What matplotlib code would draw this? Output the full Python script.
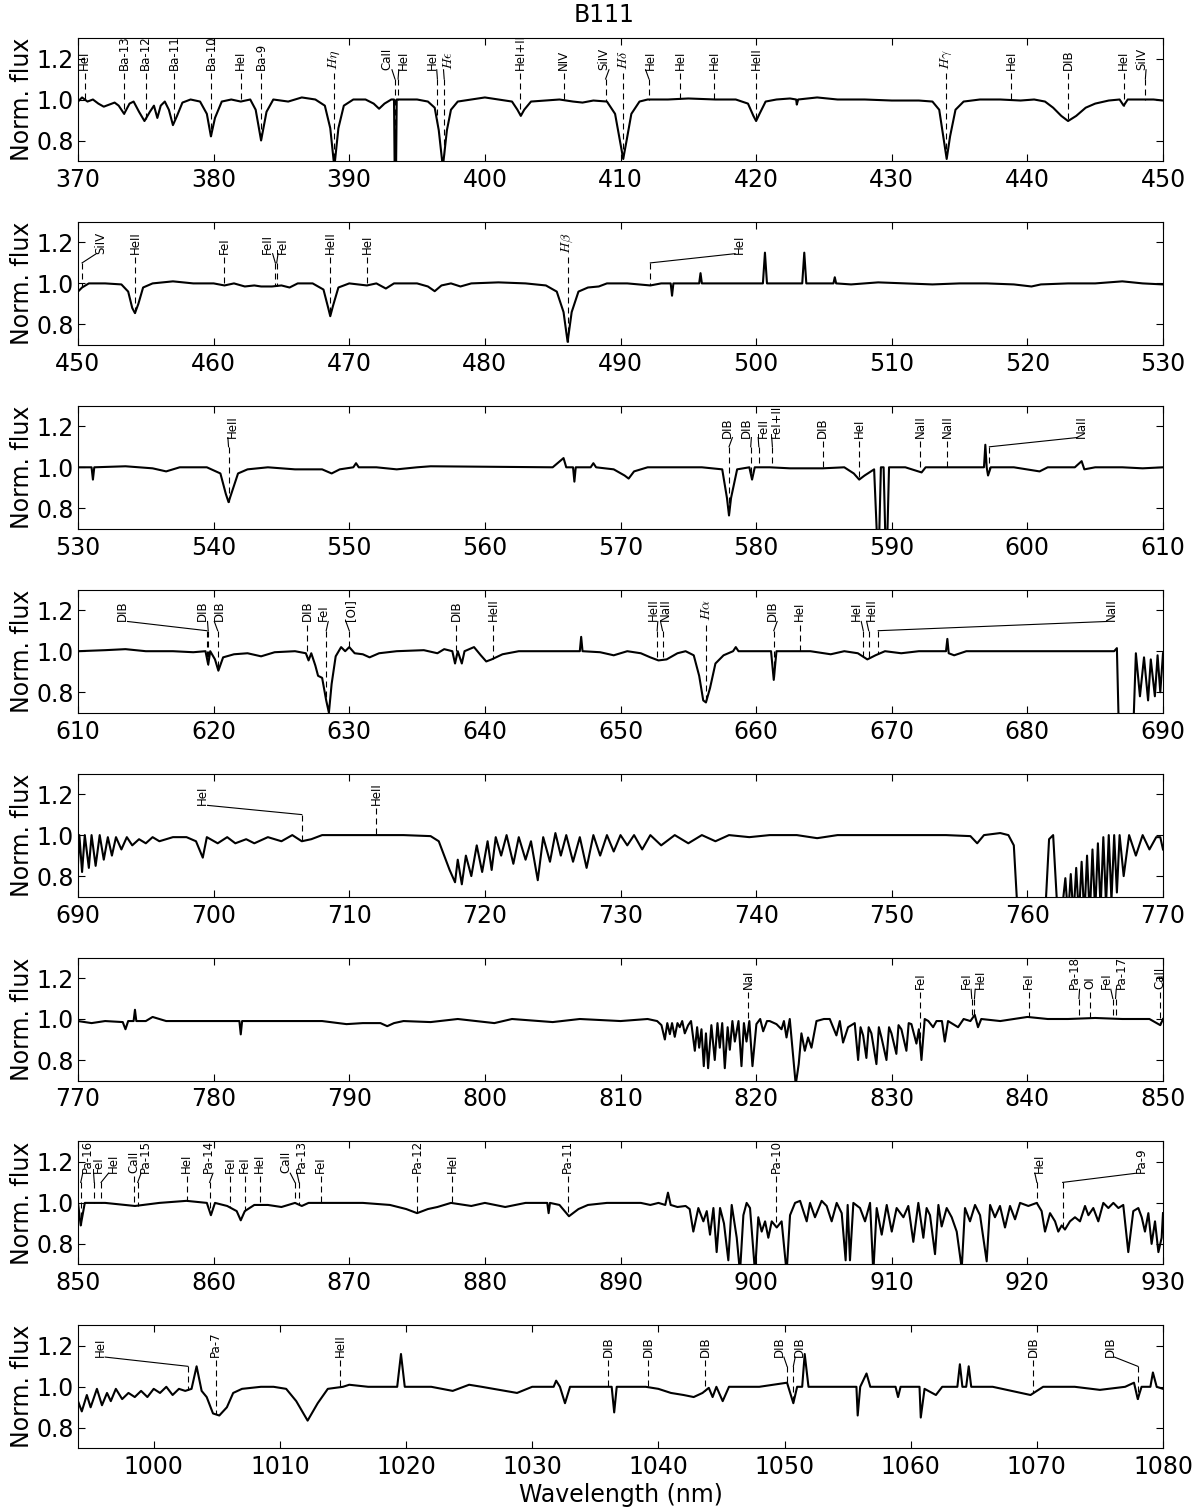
import numpy as np
import matplotlib
matplotlib.use("Agg")
import matplotlib.pyplot as plt

plt.rcParams["font.family"] = ["DejaVu Sans"]
plt.rcParams["mathtext.fontset"] = "cm"

# wavelength range of each panel (nm)
x_ranges = [(370, 450), (450, 530), (530, 610), (610, 690),
            (690, 770), (770, 850), (850, 930), (994, 1080)]
y_ticks = [0.8, 1.0, 1.2]

# spectrum: (wavelength nm, normalised flux)
spec_1 = [
    (370.0, 0.99), (370.3, 1.01), (370.7, 0.99), (371.1, 1.0), (371.5, 0.98), (371.9, 0.965),
    (372.3, 0.975), (372.7, 0.985), (373.0, 0.97), (373.4, 0.93), (373.8, 0.98), (374.1, 0.99),
    (374.5, 0.94), (374.9, 0.895), (375.3, 0.94), (375.6, 0.97), (375.85, 0.91), (376.1, 0.97),
    (376.4, 0.99), (376.7, 0.95), (377.0, 0.875), (377.3, 0.92), (377.7, 0.985), (378.3, 1.0),
    (379.0, 0.99), (379.5, 0.93), (379.8, 0.82), (380.1, 0.91), (380.6, 0.99), (381.3, 1.0),
    (382.0, 0.99), (382.7, 1.0), (383.1, 0.95), (383.5, 0.80), (383.9, 0.94), (384.4, 1.0),
    (385.5, 0.99), (386.5, 1.01), (387.5, 1.0), (388.2, 0.97), (388.6, 0.86), (388.9, 0.67),
    (389.2, 0.86), (389.6, 0.97), (390.3, 1.0), (391.2, 1.0), (391.8, 0.98), (392.2, 0.955),
    (392.6, 0.98), (393.1, 1.0), (393.3, 1.0), (393.35, 0.65), (393.45, 0.65), (393.5, 1.0),
    (394.0, 1.0), (395.0, 1.0), (395.8, 0.99), (396.3, 0.96), (396.6, 0.85), (396.9, 0.67),
    (397.2, 0.85), (397.5, 0.95), (398.0, 0.99), (399.0, 1.0), (400.0, 1.01), (401.0, 1.0),
    (402.0, 0.99), (402.4, 0.95), (402.65, 0.92), (402.9, 0.95), (403.4, 0.99), (404.5, 0.995),
    (405.5, 1.0), (406.5, 0.99), (407.2, 0.985), (408.0, 0.995), (409.0, 0.99), (409.6, 0.93),
    (409.95, 0.80), (410.2, 0.71), (410.45, 0.80), (410.8, 0.93), (411.4, 0.99), (412.0, 1.0),
    (413.5, 1.0), (415.0, 1.005), (417.0, 1.0), (418.5, 1.0), (419.4, 0.98), (419.8, 0.92),
    (420.0, 0.895), (420.25, 0.93), (420.7, 0.99), (421.5, 1.0), (422.5, 1.005), (422.95, 1.0),
    (423.0, 0.975), (423.1, 1.0), (424.5, 1.01), (426.0, 1.0), (428.0, 1.0), (430.0, 0.995),
    (432.0, 0.995), (433.0, 0.99), (433.5, 0.95), (433.8, 0.82), (434.05, 0.71), (434.3, 0.82),
    (434.7, 0.95), (435.3, 0.99), (436.5, 1.0), (438.0, 1.0), (439.5, 0.995), (440.5, 1.0),
    (441.3, 0.99), (441.9, 0.96), (442.5, 0.92), (443.0, 0.895), (443.6, 0.92), (444.3, 0.96),
    (445.0, 0.98), (446.0, 0.995), (446.8, 1.0), (447.1, 0.97), (447.4, 1.0), (448.5, 1.0),
    (449.3, 1.0), (450.0, 0.995),
]
spec_2 = [
    (450.0, 0.96), (450.3, 0.98), (450.8, 1.0), (452.0, 1.0), (453.2, 0.995), (453.7, 0.96),
    (454.0, 0.88), (454.2, 0.855), (454.45, 0.9), (454.8, 0.98), (455.5, 1.0), (457.0, 1.01),
    (458.5, 1.0), (460.0, 1.0), (460.8, 0.99), (461.5, 1.0), (462.3, 0.985), (463.0, 0.99),
    (463.5, 0.985), (464.3, 0.985), (465.0, 0.99), (465.6, 0.98), (466.2, 1.0), (467.3, 1.0),
    (468.1, 0.97), (468.45, 0.88), (468.6, 0.84), (468.8, 0.89), (469.2, 0.98), (470.0, 1.0),
    (471.3, 0.99), (472.0, 1.0), (472.7, 0.975), (473.3, 1.0), (475.0, 1.0), (475.8, 0.985),
    (476.3, 0.962), (476.8, 0.99), (477.5, 1.0), (478.2, 0.985), (479.0, 1.0), (481.0, 1.005),
    (483.0, 1.0), (484.5, 0.99), (485.3, 0.96), (485.8, 0.86), (486.1, 0.715), (486.4, 0.86),
    (486.9, 0.96), (487.6, 0.98), (488.4, 0.985), (489.0, 1.0), (490.5, 1.0), (492.2, 0.99),
    (493.0, 1.0), (493.7, 1.0), (493.8, 0.94), (493.9, 1.0), (495.0, 1.0), (495.8, 1.0),
    (495.9, 1.05), (496.0, 1.0), (498.0, 1.0), (500.5, 1.0), (500.65, 1.15), (500.8, 1.0),
    (502.0, 1.0), (503.4, 1.0), (503.55, 1.15), (503.7, 1.0), (505.7, 1.0), (505.8, 1.03),
    (505.9, 1.0), (507.0, 0.995), (509.0, 1.005), (511.0, 1.0), (513.0, 0.995), (515.0, 1.0),
    (517.0, 1.0), (519.0, 0.995), (520.3, 0.985), (521.0, 0.995), (523.0, 1.0), (525.0, 1.0),
    (527.0, 1.01), (528.5, 1.0), (530.0, 0.995),
]
spec_3 = [
    (530.0, 1.0), (531.0, 1.0), (531.1, 0.94), (531.2, 1.0), (533.5, 1.005), (535.5, 0.995),
    (536.5, 0.98), (537.5, 1.0), (539.5, 1.0), (540.5, 0.97), (540.9, 0.87), (541.1, 0.83),
    (541.35, 0.88), (541.8, 0.97), (542.5, 0.99), (544.0, 1.0), (546.0, 0.99), (548.0, 0.99),
    (548.7, 0.97), (549.3, 0.99), (550.3, 1.0), (550.5, 1.02), (550.7, 1.0), (552.0, 1.0),
    (553.5, 0.99), (555.0, 1.0), (556.0, 1.005), (565.0, 1.0), (565.8, 1.045), (566.0, 1.0),
    (566.5, 1.0), (566.6, 0.93), (566.7, 1.0), (567.8, 1.0), (568.0, 1.02), (568.2, 1.0),
    (569.5, 0.99), (570.3, 0.96), (570.6, 0.945), (571.0, 0.98), (572.0, 1.0), (574.0, 1.0),
    (576.0, 1.0), (577.5, 0.99), (577.85, 0.85), (578.0, 0.765), (578.15, 0.85), (578.6, 0.99),
    (579.5, 1.0), (579.7, 0.94), (579.9, 1.0), (581.0, 1.0), (582.5, 0.995), (584.9, 0.995),
    (586.5, 1.0), (587.2, 0.97), (587.6, 0.94), (588.0, 0.96), (588.7, 0.99), (588.95, 0.6),
    (589.05, 0.6), (589.2, 1.0), (589.4, 1.0), (589.55, 0.6), (589.65, 0.6), (589.8, 1.0),
    (591.0, 1.0), (592.2, 0.975), (592.5, 1.0), (594.0, 1.0), (595.5, 1.0), (596.8, 1.0),
    (596.9, 1.11), (597.0, 1.0), (597.1, 0.96), (597.3, 1.0), (599.0, 1.0), (600.9, 0.98),
    (601.5, 1.0), (603.5, 1.0), (604.0, 1.03), (604.2, 0.99), (605.0, 1.0), (607.0, 1.0),
    (608.5, 0.995), (610.0, 1.0),
]
spec_4 = [
    (610.0, 1.0), (612.0, 1.005), (613.5, 1.01), (615.0, 1.0), (617.0, 1.0), (618.5, 0.995),
    (619.4, 1.0), (619.6, 0.935), (619.75, 1.0), (620.1, 0.96), (620.35, 0.905), (620.7, 0.97),
    (621.5, 0.985), (622.5, 0.99), (623.5, 0.975), (624.5, 0.995), (626.0, 1.0), (626.8, 0.99),
    (627.0, 0.955), (627.2, 0.99), (627.5, 0.93), (627.7, 0.88), (628.0, 0.87), (628.3, 0.76),
    (628.5, 0.70), (628.7, 0.84), (629.0, 0.975), (629.4, 1.02), (629.7, 1.0), (630.0, 1.02),
    (630.4, 0.99), (631.0, 0.985), (631.5, 0.97), (632.2, 0.99), (633.5, 1.0), (635.5, 1.005),
    (636.5, 0.99), (637.0, 1.01), (637.6, 1.0), (637.8, 0.94), (638.0, 1.0), (638.3, 0.94),
    (638.5, 1.0), (639.2, 1.02), (639.7, 0.98), (640.1, 0.95), (640.5, 0.96), (641.3, 0.985),
    (642.5, 1.0), (644.0, 1.0), (646.0, 1.0), (647.0, 1.0), (647.1, 1.07), (647.2, 1.0),
    (648.5, 0.995), (649.5, 0.98), (650.5, 1.0), (651.5, 0.99), (652.2, 0.97), (652.8, 0.955),
    (653.4, 0.96), (654.2, 0.99), (654.8, 1.0), (655.4, 0.98), (655.8, 0.88), (656.1, 0.76),
    (656.3, 0.75), (656.6, 0.82), (657.0, 0.94), (657.6, 0.98), (658.3, 1.0), (658.5, 1.02),
    (658.7, 1.0), (660.0, 1.0), (661.1, 1.0), (661.3, 0.86), (661.5, 1.0), (662.5, 1.0),
    (664.0, 1.0), (665.5, 0.985), (666.5, 1.0), (667.5, 0.99), (668.2, 0.96), (668.8, 0.98),
    (669.5, 1.0), (670.7, 0.99), (672.0, 1.0), (674.0, 1.0), (674.1, 1.06), (674.2, 0.99),
    (674.6, 0.98), (675.5, 1.0), (678.0, 1.0), (680.0, 1.0), (683.0, 1.0), (685.0, 1.0),
    (686.4, 1.0), (686.6, 1.015), (686.75, 0.6), (687.8, 0.6), (688.0, 0.99), (688.3, 0.78),
    (688.6, 0.97), (688.9, 0.76), (689.1, 0.96), (689.4, 0.78), (689.6, 0.98), (689.8, 0.8),
    (690.0, 0.99),
]
spec_5 = [
    (690.0, 0.86), (690.1, 1.0), (690.3, 0.82), (690.5, 1.0), (690.8, 0.84), (691.0, 1.0),
    (691.3, 0.85), (691.6, 1.0), (691.9, 0.88), (692.2, 0.99), (692.5, 0.9), (692.8, 0.99),
    (693.2, 0.93), (693.6, 0.99), (694.0, 0.95), (694.5, 0.98), (695.0, 0.96), (695.5, 0.99),
    (696.0, 0.97), (697.0, 0.99), (698.0, 0.99), (698.7, 0.97), (699.2, 0.89), (699.5, 0.99),
    (700.3, 0.96), (701.0, 0.99), (701.6, 0.96), (702.4, 0.98), (703.0, 0.96), (704.0, 0.99),
    (705.0, 0.97), (705.8, 1.0), (706.5, 0.97), (707.2, 0.98), (708.0, 1.0), (710.0, 1.0),
    (712.0, 1.0), (714.0, 1.0), (716.0, 0.995), (716.6, 0.97), (717.0, 0.9), (717.4, 0.83),
    (717.8, 0.77), (718.0, 0.88), (718.3, 0.76), (718.6, 0.9), (719.0, 0.8), (719.4, 0.95),
    (719.8, 0.82), (720.2, 0.97), (720.5, 0.83), (720.8, 0.99), (721.2, 0.9), (721.6, 1.0),
    (722.1, 0.86), (722.5, 0.99), (723.0, 0.88), (723.4, 0.97), (723.9, 0.78), (724.3, 0.99),
    (724.8, 0.87), (725.2, 1.01), (725.6, 0.9), (726.0, 1.0), (726.5, 0.87), (727.0, 0.99),
    (727.5, 0.84), (728.0, 1.0), (728.5, 0.9), (729.0, 1.0), (729.5, 0.92), (730.0, 1.0),
    (730.5, 0.95), (731.0, 1.0), (731.6, 0.93), (732.2, 1.0), (733.0, 0.95), (734.0, 1.0),
    (735.0, 0.96), (736.0, 1.0), (737.0, 0.97), (738.0, 1.0), (739.5, 0.99), (741.0, 1.0),
    (743.0, 1.0), (744.5, 0.985), (746.0, 1.0), (750.0, 1.0), (754.0, 1.0), (755.8, 0.995),
    (756.3, 0.96), (756.8, 1.0), (758.0, 1.01), (758.6, 1.0), (759.0, 0.95), (759.3, 0.6),
    (761.3, 0.6), (761.6, 0.98), (761.9, 1.0), (762.2, 0.65), (762.5, 0.6), (762.8, 0.79),
    (763.0, 0.6), (763.2, 0.81), (763.4, 0.6), (763.6, 0.84), (763.8, 0.6), (764.0, 0.87),
    (764.2, 0.6), (764.4, 0.9), (764.6, 0.6), (764.8, 0.93), (765.0, 0.62), (765.2, 0.96),
    (765.4, 0.64), (765.6, 0.99), (765.8, 0.66), (766.0, 1.0), (766.2, 0.68), (766.4, 1.0),
    (766.6, 0.72), (766.8, 1.0), (767.1, 0.8), (767.5, 1.0), (768.0, 0.9), (768.5, 1.0),
    (769.0, 0.93), (769.5, 0.99), (769.8, 0.99), (770.0, 0.93),
]
spec_6 = [
    (770.0, 0.99), (771.0, 0.98), (772.0, 0.99), (773.3, 0.985), (773.5, 0.95), (773.7, 0.99),
    (774.1, 0.99), (774.2, 1.045), (774.3, 0.99), (775.0, 0.99), (775.5, 1.01), (776.5, 0.99),
    (778.0, 0.99), (780.0, 0.99), (781.9, 0.99), (782.0, 0.925), (782.1, 0.99), (785.0, 0.99),
    (788.0, 0.99), (789.8, 0.975), (791.0, 0.98), (792.3, 0.98), (792.8, 0.965), (793.3, 0.98),
    (794.0, 0.99), (796.0, 0.985), (798.0, 1.0), (800.7, 0.98), (802.0, 1.0), (805.0, 0.985),
    (807.0, 1.0), (810.0, 0.99), (812.0, 1.0), (812.7, 0.99), (813.02, 0.97), (813.27, 0.90),
    (813.45, 0.98), (813.64, 0.926), (813.8, 0.98), (814.0, 0.913), (814.2, 0.98), (814.37, 0.96),
    (814.55, 0.99), (814.74, 0.93), (814.99, 0.97), (815.2, 0.99), (815.48, 0.845), (815.65, 0.96),
    (815.8, 0.86), (815.97, 0.95), (816.14, 0.77), (816.3, 0.93), (816.46, 0.76), (816.7, 0.97),
    (816.95, 0.80), (817.15, 0.98), (817.32, 0.86), (817.5, 0.98), (817.69, 0.76), (817.9, 0.96),
    (818.06, 0.85), (818.25, 0.99), (818.43, 0.89), (818.7, 0.99), (818.92, 0.77), (819.1, 0.98),
    (819.29, 0.89), (819.5, 0.99), (819.73, 0.77), (820.02, 0.975), (820.3, 1.0), (820.52, 0.94),
    (820.8, 0.99), (821.0, 0.99), (821.5, 0.975), (821.87, 0.95), (822.05, 0.99), (822.24, 0.91),
    (822.48, 1.0), (822.73, 0.82), (822.92, 0.68), (823.14, 0.78), (823.34, 0.93), (823.59, 0.845),
    (823.83, 0.91), (824.08, 0.86), (824.45, 0.99), (825.0, 1.0), (825.43, 1.0), (825.92, 0.92),
    (826.17, 0.99), (826.41, 0.885), (826.78, 0.96), (827.27, 0.98), (827.52, 0.80), (827.7, 0.96),
    (827.89, 0.92), (828.13, 0.81), (828.3, 0.96), (828.5, 0.93), (828.87, 0.78), (829.05, 0.96),
    (829.24, 0.91), (829.61, 0.80), (829.8, 0.96), (829.98, 0.93), (830.34, 0.83), (830.5, 0.97),
    (830.71, 0.95), (831.08, 0.845), (831.25, 0.98), (831.45, 0.975), (831.82, 0.88), (832.0, 0.95),
    (832.19, 0.80), (832.43, 1.0), (832.7, 0.99), (833.05, 0.96), (833.3, 0.99), (833.7, 0.99),
    (833.91, 0.89), (834.15, 0.99), (834.89, 0.96), (835.3, 1.0), (835.8, 0.99), (836.12, 1.02),
    (836.36, 0.96), (836.6, 1.0), (838.0, 0.99), (839.0, 1.0), (840.0, 1.01), (841.5, 1.0),
    (843.0, 1.0), (845.0, 1.005), (847.0, 1.0), (849.0, 1.0), (849.8, 0.97), (850.0, 1.0),
]
spec_7 = [
    (850.0, 1.0), (850.2, 0.89), (850.5, 1.0), (852.0, 1.0), (854.2, 0.985), (856.0, 1.0),
    (858.0, 1.01), (859.5, 1.0), (859.8, 0.94), (860.1, 1.0), (861.0, 0.985), (861.7, 0.96),
    (862.0, 0.915), (862.3, 0.96), (863.0, 0.99), (864.0, 0.99), (865.0, 0.98), (866.0, 1.0),
    (866.5, 0.985), (867.0, 1.0), (869.0, 1.0), (871.0, 1.0), (873.0, 0.99), (874.2, 0.97),
    (875.0, 0.95), (875.8, 0.97), (876.5, 0.98), (877.5, 1.0), (879.0, 0.985), (880.0, 1.0),
    (881.5, 0.98), (883.0, 1.0), (884.6, 1.0), (884.7, 0.95), (884.8, 1.0), (885.5, 0.99),
    (886.2, 0.935), (886.9, 0.97), (887.6, 0.99), (889.0, 1.0), (891.5, 1.0), (892.2, 0.99),
    (892.8, 1.0), (893.3, 0.99), (893.5, 1.05), (893.7, 0.99), (894.2, 0.98), (894.8, 0.985),
    (895.1, 0.97), (895.37, 0.86), (895.74, 0.975), (896.11, 0.91), (896.36, 0.96), (896.6, 0.845),
    (896.85, 0.975), (897.09, 0.76), (897.34, 0.975), (897.63, 0.9), (897.95, 0.72), (898.2, 0.99),
    (898.57, 0.83), (898.81, 0.66), (899.06, 0.94), (899.3, 1.0), (899.55, 0.975), (899.92, 0.66),
    (900.16, 0.93), (900.41, 0.86), (900.66, 0.91), (900.9, 0.83), (901.15, 0.91), (901.52, 0.88),
    (901.88, 0.91), (902.25, 0.66), (902.5, 0.94), (902.87, 1.0), (903.24, 1.01), (903.73, 0.91),
    (903.97, 1.0), (904.34, 0.93), (904.83, 1.01), (905.2, 0.985), (905.57, 0.91), (905.94, 1.0),
    (906.31, 0.95), (906.6, 0.72), (906.75, 0.99), (906.92, 0.72), (907.17, 1.0), (907.66, 0.975),
    (908.03, 0.91), (908.4, 1.0), (908.64, 0.66), (908.89, 0.975), (909.26, 0.845), (909.63, 0.99),
    (910.0, 0.86), (910.36, 0.975), (910.86, 0.93), (911.22, 0.985), (911.59, 0.81), (911.96, 1.0),
    (912.33, 0.83), (912.57, 0.975), (912.82, 0.94), (913.19, 0.75), (913.44, 0.99), (913.68, 0.885),
    (914.05, 0.975), (914.42, 0.93), (914.79, 0.86), (915.16, 0.68), (915.4, 0.975), (915.77, 0.91),
    (916.14, 0.99), (916.51, 0.94), (917.0, 0.715), (917.25, 0.99), (917.61, 0.93), (917.98, 0.985),
    (918.35, 0.88), (918.72, 0.985), (919.09, 0.92), (919.46, 1.0), (920.07, 0.985), (920.69, 1.0),
    (921.05, 0.96), (921.3, 0.86), (921.67, 0.95), (922.04, 0.91), (922.28, 0.86), (922.53, 0.89),
    (922.77, 0.87), (923.14, 0.91), (923.51, 0.93), (923.88, 0.91), (924.25, 0.985), (924.5, 0.94),
    (924.86, 0.975), (925.23, 0.91), (925.6, 1.0), (925.97, 0.975), (926.34, 1.0), (926.71, 0.975),
    (927.07, 0.99), (927.44, 0.76), (927.81, 0.96), (928.18, 0.975), (928.43, 0.93), (928.67, 0.86),
    (928.92, 0.95), (929.16, 0.80), (929.41, 0.91), (929.66, 0.76), (929.9, 0.83), (930.0, 0.95),
]
spec_8 = [
    (994.0, 0.93), (994.3, 0.88), (994.7, 0.96), (995.0, 0.9), (995.5, 0.99), (995.9, 0.91),
    (996.3, 0.97), (996.6, 0.93), (997.0, 0.99), (997.5, 0.94), (998.0, 0.97), (998.5, 0.95),
    (999.0, 0.98), (999.5, 0.95), (1000.0, 0.99), (1000.5, 0.97), (1001.0, 1.0), (1001.5, 0.96),
    (1002.0, 0.99), (1002.5, 0.98), (1003.0, 0.99), (1003.4, 1.1), (1003.8, 0.98), (1004.2, 0.95),
    (1004.7, 0.87), (1005.2, 0.86), (1005.8, 0.9), (1006.3, 0.97), (1007.0, 0.99), (1008.5, 1.0),
    (1009.5, 1.0), (1010.5, 0.99), (1011.3, 0.93), (1012.2, 0.835), (1013.0, 0.92), (1013.8, 0.99),
    (1015.0, 1.0), (1015.5, 1.01), (1017.0, 1.0), (1019.3, 1.0), (1019.6, 1.16), (1019.9, 1.0),
    (1022.0, 1.0), (1023.7, 0.98), (1025.0, 1.01), (1026.0, 1.0), (1028.8, 0.97), (1030.0, 1.0),
    (1031.7, 1.0), (1031.9, 1.03), (1032.2, 1.0), (1032.6, 0.92), (1033.0, 1.0), (1035.0, 1.0),
    (1036.3, 1.0), (1036.5, 0.875), (1036.7, 1.0), (1039.0, 1.0), (1040.0, 0.99), (1041.0, 0.97),
    (1042.0, 0.96), (1042.8, 0.95), (1043.5, 0.97), (1044.0, 0.995), (1044.3, 0.95), (1044.6, 1.0),
    (1045.1, 0.93), (1045.6, 1.0), (1048.0, 1.0), (1050.2, 1.02), (1050.7, 0.92), (1051.0, 1.0),
    (1051.4, 1.0), (1051.6, 1.16), (1051.9, 1.0), (1054.0, 1.0), (1055.7, 1.0), (1055.8, 0.86),
    (1056.0, 1.0), (1056.5, 1.065), (1056.8, 1.0), (1058.8, 1.0), (1059.0, 0.95), (1059.2, 1.0),
    (1060.7, 1.0), (1060.8, 0.85), (1061.1, 0.99), (1062.0, 0.96), (1062.5, 1.0), (1063.7, 1.0),
    (1063.9, 1.11), (1064.1, 1.0), (1064.4, 1.0), (1064.6, 1.1), (1064.8, 1.0), (1066.5, 1.0),
    (1068.0, 0.98), (1069.5, 0.96), (1070.5, 1.0), (1073.0, 1.0), (1075.0, 0.985), (1077.0, 1.0),
    (1077.7, 1.02), (1078.0, 0.94), (1078.3, 1.0), (1079.0, 1.0), (1079.2, 1.07), (1079.5, 1.0),
    (1080.0, 0.99),
]

# line identifications: (line wavelength, label position, label)
labels_1 = [
    (370.5, 370.5, "HeI"), (373.4, 373.4, "Ba-13"), (375.0, 375.0, "Ba-12"),
    (377.1, 377.1, "Ba-11"), (379.8, 379.8, "Ba-10"), (382.0, 382.0, "HeI"),
    (383.5, 383.5, "Ba-9"), (388.9, 388.9, r"$H\eta$"), (393.37, 392.8, "CaII"),
    (393.6, 394.0, "HeI"), (396.5, 396.1, "HeI"), (397.0, 397.3, r"$H\epsilon$"),
    (402.6, 402.6, "HeI+II"), (405.8, 405.8, "NIV"), (408.9, 408.8, "SiIV"),
    (410.2, 410.2, r"$H\delta$"), (412.1, 412.2, "HeI"), (414.4, 414.4, "HeI"),
    (416.9, 416.9, "HeI"), (420.0, 420.0, "HeII"), (434.0, 434.0, r"$H\gamma$"),
    (438.8, 438.8, "HeI"), (443.0, 443.0, "DIB"), (447.1, 447.1, "HeI"), (448.7, 448.4, "SiIV"),
]
labels_2 = [
    (450.3, 451.7, "SiIV"), (454.2, 454.2, "HeII"), (460.8, 460.8, "FeI"),
    (464.55, 464.0, "FeII"), (464.65, 465.1, "FeI"), (468.6, 468.6, "HeII"),
    (471.3, 471.3, "HeI"), (486.1, 486.1, r"$H\beta$"), (492.2, 498.8, "HeI"),
]
labels_3 = [
    (541.1, 541.4, "HeII"), (578.0, 577.9, "DIB"), (579.6, 579.3, "DIB"),
    (580.2, 580.5, "FeII"), (581.2, 581.5, "FeI+II"), (584.9, 584.9, "DIB"),
    (587.6, 587.6, "HeI"), (592.1, 592.1, "NaII"), (594.1, 594.1, "NaII"),
    (597.2, 604.0, "NaII"),
]
labels_4 = [
    (619.5, 613.3, "DIB"), (619.6, 619.2, "DIB"), (620.3, 620.4, "DIB"),
    (626.9, 626.9, "DIB"), (628.3, 628.1, "FeI"), (630.0, 630.1, "[OI]"),
    (637.9, 637.9, "DIB"), (640.6, 640.6, "HeII"), (652.7, 652.4, "HeII"),
    (653.1, 653.3, "NaII"), (656.3, 656.3, r"$H\alpha$"), (661.3, 661.2, "DIB"),
    (663.2, 663.2, "HeI"), (667.9, 667.4, "HeI"), (668.3, 668.5, "HeII"),
    (669.0, 686.2, "NaII"),
]
labels_5 = [(706.5, 699.2, "HeI"), (712.0, 712.0, "HeII")]
labels_6 = [
    (819.4, 819.4, "NaI"), (832.1, 832.1, "FeI"), (835.9, 835.5, "FeI"),
    (836.1, 836.5, "HeI"), (840.1, 840.1, "FeI"), (843.8, 843.5, "Pa-18"),
    (844.6, 844.6, "OI"), (846.3, 845.8, "FeI"), (846.5, 846.9, "Pa-17"),
    (849.8, 849.8, "CaII"),
]
labels_7 = [
    (850.2, 850.7, "Pa-16"), (851.2, 851.5, "FeI"), (851.7, 852.6, "HeI"),
    (854.1, 854.1, "CaII"), (854.4, 855.0, "Pa-15"), (858.0, 858.0, "HeI"),
    (859.7, 859.6, "Pa-14"), (861.2, 861.2, "FeI"), (862.3, 862.3, "FeI"),
    (863.4, 863.4, "HeI"), (866.0, 865.3, "CaII"), (866.3, 866.5, "Pa-13"),
    (867.9, 867.9, "FeI"), (875.0, 875.0, "Pa-12"), (877.6, 877.6, "HeI"),
    (886.1, 886.1, "Pa-11"), (901.5, 901.5, "Pa-10"), (920.7, 920.9, "HeI"),
    (922.6, 928.4, "Pa-9"),
]
labels_8 = [
    (1002.7, 995.8, "HeI"), (1004.9, 1004.9, "Pa-7"), (1014.8, 1014.8, "HeII"),
    (1036.0, 1036.0, "DIB"), (1039.2, 1039.2, "DIB"), (1043.7, 1043.7, "DIB"),
    (1050.2, 1049.6, "DIB"), (1050.7, 1051.2, "DIB"), (1069.7, 1069.7, "DIB"),
    (1078.0, 1075.8, "DIB"),
]

spectra = [spec_1, spec_2, spec_3, spec_4, spec_5, spec_6, spec_7, spec_8]
line_labels = [labels_1, labels_2, labels_3, labels_4, labels_5, labels_6, labels_7, labels_8]

W, H = 1200, 1511
fig = plt.figure(figsize=(W / 100, H / 100), dpi=100)
fig.text(0.503, 1 - 15 / H, "B111", ha="center", va="center", fontsize=17)

for i, (rng, spec, labs) in enumerate(zip(x_ranges, spectra, line_labels)):
    top = 38 + 183.9 * i
    ax = fig.add_axes([78 / W, 1 - (top + 123) / H, 1085 / W, 123 / H])
    wl, fx = np.array(spec).T
    ax.plot(wl, fx, color="k", lw=1.5)
    ax.set_xlim(*rng)
    ax.set_ylim(0.7, 1.3)
    ax.set_yticks(y_ticks)
    first = rng[0] if rng[0] % 10 == 0 else rng[0] - rng[0] % 10 + 10
    ax.set_xticks(np.arange(first, rng[1] + 1, 10))
    ax.tick_params(direction="in", top=True, right=True, length=5, labelsize=17)
    ax.tick_params(axis="x", pad=5)
    ax.tick_params(axis="y", pad=3)
    ax.set_ylabel("Norm. flux", fontsize=17, labelpad=2)

    for line_x, text_x, name in labs:
        y_end = max(np.interp(line_x, wl, fx), 0.7)
        if abs(text_x - line_x) > 0.05:
            # bent connector from the label down to the line position
            side = 1 if line_x > text_x else -1
            ax.plot([text_x + side * 0.35, line_x], [1.145, 1.10], color="k", lw=0.8)
            y_start = 1.10
        else:
            y_start = 1.13
        ax.plot([line_x, line_x], [y_start, y_end], color="k", lw=0.8,
                linestyle=(0, (5.4, 3.6)))
        fs = 10 if name.startswith("$") else 8.5
        ax.text(text_x, 1.145, name, rotation=90, ha="center", va="bottom", fontsize=fs)

ax.set_xlabel("Wavelength (nm)", fontsize=17, labelpad=3)

fig.savefig("out.png", dpi=100, facecolor="white")
